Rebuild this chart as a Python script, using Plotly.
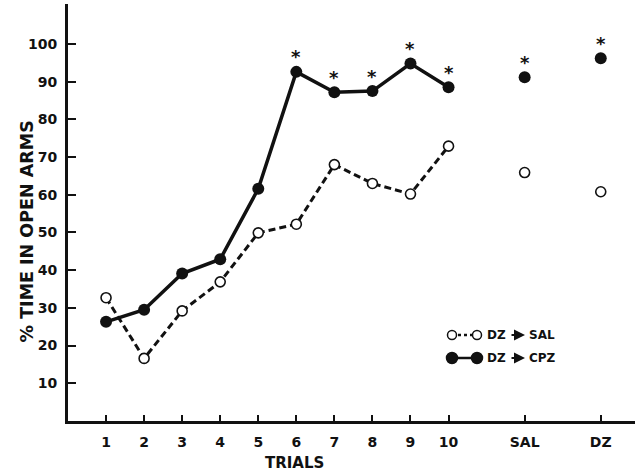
import plotly.graph_objects as go

# Trial positions on the x axis (two empty slots before the test conditions)
x_pos = [1, 2, 3, 4, 5, 6, 7, 8, 9, 10, 12, 14]
tick_labels = ["1", "2", "3", "4", "5", "6", "7", "8", "9", "10", "SAL", "DZ"]

# % time in open arms
dz_sal = [32.7, 16.6, 29.2, 36.9, 49.9, 52.2, 68.0, 63.0, 60.2, 72.9, 65.9, 60.8]
dz_cpz = [26.3, 29.5, 39.1, 42.9, 61.6, 92.6, 87.2, 87.5, 94.8, 88.5, 91.2, 96.2]

# significance marks on the DZ -> CPZ group
signif = [False, False, False, False, False, True, True, True, True, True, True, True]

FONT = "DejaVu Sans"
BLACK = "#111111"

fig = go.Figure()

# connected trials 1-10, then the two isolated test points
n_trials = 10
fig.add_trace(go.Scatter(
    x=x_pos[:n_trials], y=dz_sal[:n_trials], mode="lines",
    line=dict(color=BLACK, width=3, dash="7px,4px"), hoverinfo="skip",
))
fig.add_trace(go.Scatter(
    x=x_pos[:n_trials], y=dz_cpz[:n_trials], mode="lines",
    line=dict(color=BLACK, width=3.5), hoverinfo="skip",
))
fig.add_trace(go.Scatter(
    x=x_pos, y=dz_sal, mode="markers", name="DZ → SAL",
    marker=dict(symbol="circle", size=10, color="white",
                line=dict(color=BLACK, width=1.6)),
))
fig.add_trace(go.Scatter(
    x=x_pos, y=dz_cpz, mode="markers", name="DZ → CPZ",
    marker=dict(symbol="circle", size=12, color=BLACK,
                line=dict(color=BLACK, width=0)),
))

annotations = []
for xv, yv, s in zip(x_pos, dz_cpz, signif):
    if s:
        annotations.append(dict(
            x=xv, y=yv, xref="x", yref="y", text="*", showarrow=False,
            yshift=15, font=dict(family=FONT, size=18, color=BLACK, weight="bold"),
        ))

# axis titles
annotations.append(dict(
    x=-0.072, y=0.455, xref="paper", yref="paper", text="% TIME IN OPEN ARMS",
    textangle=-90, showarrow=False, xanchor="center", yanchor="middle",
    font=dict(family=FONT, size=17.5, color=BLACK, weight="bold"),
))
annotations.append(dict(
    x=0.40, y=-0.10, xref="paper", yref="paper", text="TRIALS",
    showarrow=False, xanchor="center", yanchor="middle",
    font=dict(family=FONT, size=15, color=BLACK, weight="bold"),
))

# hand-built key: two markers joined by the series line, then the label
W, H = 635, 471
L, R, T, B = 68, 0, 4, 50
pw, ph = W - L - R, H - T - B


def px(xp):
    return (xp - L) / pw


def py(yp):
    return (H - B - yp) / ph


shapes = []
key_rows = [
    (335, "white", "3px,3px", "SAL", 9),
    (358, BLACK, "solid", "CPZ", 11),
]
key_font = dict(family=FONT, size=12, color=BLACK, weight="bold")
for yrow, fill, dash, label, d in key_rows:
    shapes.append(dict(
        type="line", xref="paper", yref="paper",
        x0=px(452), x1=px(477), y0=py(yrow), y1=py(yrow),
        line=dict(color=BLACK, width=2.5, dash=dash), layer="above",
    ))
    for cx in (452, 477):
        shapes.append(dict(
            type="circle", xref="paper", yref="paper",
            xsizemode="pixel", ysizemode="pixel",
            xanchor=px(cx), yanchor=py(yrow),
            x0=-d / 2, x1=d / 2, y0=-d / 2, y1=d / 2,
            fillcolor=fill, line=dict(color=BLACK, width=1.5), layer="above",
        ))
    annotations.append(dict(
        x=px(485), y=py(yrow), xref="paper", yref="paper", text="DZ",
        showarrow=False, xanchor="left", yanchor="middle", font=key_font,
    ))
    # arrow between the two drug names
    annotations.append(dict(
        x=px(525), y=py(yrow), xref="paper", yref="paper", text="",
        showarrow=True, ax=-15, ay=0, arrowhead=2, arrowsize=1.0,
        arrowwidth=2.2, arrowcolor=BLACK, standoff=0,
    ))
    annotations.append(dict(
        x=px(527), y=py(yrow), xref="paper", yref="paper", text=label,
        showarrow=False, xanchor="left", yanchor="middle", font=key_font,
    ))

fig.update_layout(
    width=W, height=H,
    margin=dict(l=L, r=R, t=T, b=B),
    paper_bgcolor="white", plot_bgcolor="white",
    showlegend=False,
    annotations=annotations,
    shapes=shapes,
    xaxis=dict(
        range=[0, 14.9], tickvals=x_pos, ticktext=tick_labels,
        showgrid=False, zeroline=False,
        showline=True, linecolor=BLACK, linewidth=3,
        ticks="inside", ticklen=6, tickwidth=1.5, tickcolor=BLACK,
        tickfont=dict(family=FONT, size=14, color=BLACK, weight="bold"),
        ticklabelstandoff=6,
    ),
    yaxis=dict(
        range=[0, 110.6], tickvals=[10, 20, 30, 40, 50, 60, 70, 80, 90, 100],
        showgrid=False, zeroline=False,
        showline=True, linecolor=BLACK, linewidth=3,
        ticks="inside", ticklen=8, tickwidth=1.5, tickcolor=BLACK,
        tickfont=dict(family=FONT, size=14, color=BLACK, weight="bold"),
        ticklabelstandoff=5,
    ),
)

fig.write_html("out.html")
